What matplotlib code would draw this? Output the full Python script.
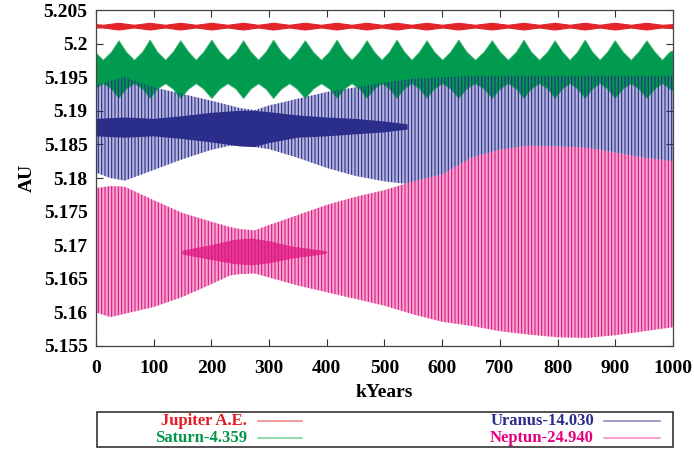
import matplotlib
matplotlib.use("Agg")
import matplotlib.pyplot as plt
from matplotlib.lines import Line2D
from matplotlib.patches import Rectangle

# -----------------------------
# DATA
# -----------------------------
# Jupiter: envelope at troughs and peaks of the ~54 kyr beat
beat_kyr = [0, 12, 39, 66, 93, 120, 146, 173, 200, 228, 255, 281, 307, 335, 362, 390,
            417, 443, 469, 495, 521, 547, 573, 600, 628, 657, 686, 714, 741, 768, 795,
            821, 847, 873, 899, 927, 954, 981, 1000]

jupiter_hi = [5.2029, 5.2028, 5.2031, 5.2028, 5.2031, 5.2028, 5.2031, 5.2028, 5.2031,
              5.2028, 5.2031, 5.2028, 5.2031, 5.2028, 5.2031, 5.2028, 5.2031, 5.2028,
              5.2031, 5.2028, 5.2031, 5.2028, 5.2031, 5.2028, 5.2031, 5.2028, 5.2031,
              5.2028, 5.2031, 5.2028, 5.2031, 5.2028, 5.2031, 5.2028, 5.2031, 5.2028,
              5.2031, 5.2028, 5.2029]
jupiter_lo = [5.2024, 5.2024, 5.2021, 5.2024, 5.2021, 5.2024, 5.2021, 5.2024, 5.2021,
              5.2024, 5.2021, 5.2024, 5.2021, 5.2024, 5.2021, 5.2024, 5.2021, 5.2024,
              5.2021, 5.2024, 5.2021, 5.2024, 5.2021, 5.2024, 5.2021, 5.2024, 5.2021,
              5.2024, 5.2021, 5.2024, 5.2021, 5.2024, 5.2021, 5.2024, 5.2021, 5.2024,
              5.2021, 5.2024, 5.2023]

# Saturn: same beat, with the half-way points (rounded troughs, pointed peaks)
saturn_kyr = [0, 12,
              26, 39, 52, 66,
              80, 93, 106, 120,
              133, 146, 160, 173,
              186, 200, 214, 228,
              242, 255, 268, 281,
              294, 307, 321, 335,
              348, 362, 376, 390,
              404, 417, 430, 443,
              456, 469, 482, 495,
              508, 521, 534, 547,
              560, 573, 586, 600,
              614, 628, 642, 657,
              672, 686, 700, 714,
              728, 741, 754, 768,
              782, 795, 808, 821,
              834, 847, 860, 873,
              886, 899, 913, 927,
              940, 954, 968, 981,
              994, 1000]
saturn_hi = [5.1986, 5.1976,
             5.1988, 5.2005, 5.1988, 5.1976,
             5.1988, 5.2006, 5.1988, 5.1976,
             5.1988, 5.2005, 5.1988, 5.1976,
             5.1988, 5.2006, 5.1988, 5.1976,
             5.1988, 5.2005, 5.1988, 5.1976,
             5.1988, 5.2006, 5.1988, 5.1976,
             5.1988, 5.2005, 5.1988, 5.1976,
             5.1988, 5.2006, 5.1988, 5.1976,
             5.1988, 5.2005, 5.1988, 5.1976,
             5.1988, 5.2006, 5.1988, 5.1976,
             5.1988, 5.2005, 5.1988, 5.1976,
             5.1988, 5.2006, 5.1988, 5.1976,
             5.1988, 5.2005, 5.1988, 5.1976,
             5.1988, 5.2006, 5.1988, 5.1976,
             5.1988, 5.2005, 5.1988, 5.1976,
             5.1988, 5.2006, 5.1988, 5.1976,
             5.1988, 5.2005, 5.1988, 5.1976,
             5.1988, 5.2005, 5.1988, 5.1976,
             5.1988, 5.1990]
saturn_lo = [5.1934, 5.1941,
             5.1933, 5.1919, 5.1933, 5.1941,
             5.1933, 5.1919, 5.1933, 5.1941,
             5.1933, 5.1919, 5.1933, 5.1941,
             5.1933, 5.1919, 5.1933, 5.1941,
             5.1933, 5.1919, 5.1933, 5.1941,
             5.1933, 5.1919, 5.1933, 5.1941,
             5.1933, 5.1919, 5.1933, 5.1941,
             5.1933, 5.1919, 5.1933, 5.1941,
             5.1933, 5.1919, 5.1933, 5.1941,
             5.1933, 5.1919, 5.1933, 5.1941,
             5.1933, 5.1919, 5.1933, 5.1941,
             5.1933, 5.1919, 5.1933, 5.1941,
             5.1933, 5.1919, 5.1933, 5.1941,
             5.1933, 5.1919, 5.1933, 5.1941,
             5.1933, 5.1919, 5.1933, 5.1941,
             5.1933, 5.1919, 5.1933, 5.1941,
             5.1933, 5.1919, 5.1933, 5.1941,
             5.1933, 5.1919, 5.1933, 5.1941,
             5.1933, 5.1930]

# Uranus / Neptune: slow envelope
env_kyr = [0, 25, 50, 100, 150, 200, 232, 250, 275, 300, 350, 400, 450, 500, 550,
           600, 650, 700, 750, 800, 850, 900, 950, 1000]

uranus_hi = [5.1938, 5.1945, 5.1950, 5.1935, 5.1925, 5.1915, 5.1908, 5.1904, 5.1901,
             5.1908, 5.1918, 5.1928, 5.1935, 5.1942, 5.1948, 5.1950, 5.1952, 5.1952,
             5.1952, 5.1952, 5.1952, 5.1952, 5.1952, 5.1952]
uranus_lo = [5.1808, 5.1800, 5.1796, 5.1812, 5.1828, 5.1842, 5.1848, 5.1848, 5.1846,
             5.1843, 5.1830, 5.1815, 5.1803, 5.1795, 5.1790, 5.1787, 5.1785, 5.1785,
             5.1785, 5.1785, 5.1785, 5.1785, 5.1785, 5.1785]

uranus_core_kyr = [0, 50, 100, 150, 200, 250, 275, 300, 350, 400, 450, 500, 540]
uranus_core_hi = [5.1888, 5.1890, 5.1888, 5.1892, 5.1897, 5.1900, 5.1900, 5.1898,
                  5.1893, 5.1890, 5.1888, 5.1884, 5.1880]
uranus_core_lo = [5.1862, 5.1860, 5.1862, 5.1858, 5.1853, 5.1847, 5.1846, 5.1852,
                  5.1860, 5.1862, 5.1865, 5.1868, 5.1872]

neptune_hi = [5.1785, 5.1788, 5.1787, 5.1767, 5.1748, 5.1735, 5.1727, 5.1724, 5.1722,
              5.1730, 5.1745, 5.1760, 5.1772, 5.1782, 5.1795, 5.1805, 5.1830, 5.1842,
              5.1848, 5.1847, 5.1845, 5.1838, 5.1830, 5.1825]
neptune_lo = [5.1600, 5.1593, 5.1598, 5.1608, 5.1623, 5.1642, 5.1655, 5.1657, 5.1658,
              5.1652, 5.1640, 5.1630, 5.1620, 5.1610, 5.1597, 5.1586, 5.1580, 5.1572,
              5.1567, 5.1563, 5.1562, 5.1566, 5.1572, 5.1578]

neptune_core_kyr = [150, 200, 240, 270, 300, 340, 400]
neptune_core_hi = [5.1692, 5.1700, 5.1708, 5.1710, 5.1706, 5.1698, 5.1691]
neptune_core_lo = [5.1686, 5.1678, 5.1672, 5.1670, 5.1673, 5.1680, 5.1687]

labels = ["Jupiter A.E.", "Saturn-4.359", "Uranus-14.030", "Neptun-24.940"]

# -----------------------------
# COLOURS
# -----------------------------
jup_red = "#e3242b"
sat_green = "#009b4e"
ura_dark = "#2b2d8a"
ura_light = "#b6b6dc"
nep_dark = "#e0147f"
nep_light = "#f3a9d1"

text_colors = ["#e31b23", "#00964a", "#2b2d8a", "#e6007e"]
legend_line_colors = ["#f08a8e", "#7fd0a6", "#8c8cc4", "#f490c8"]

plt.rcParams["font.family"] = ["Liberation Serif", "DejaVu Serif"]
plt.rcParams["font.weight"] = "bold"
plt.rcParams["hatch.linewidth"] = 0.8

fig = plt.figure(figsize=(6.94, 4.57), dpi=100)
ax = fig.add_axes([0.1383, 0.2429, 0.8314, 0.7352])

# Uranus light band (under Saturn)
ax.fill_between(env_kyr, uranus_lo, uranus_hi, facecolor=ura_light, edgecolor="none",
                linewidth=0, zorder=1)

# Saturn
ax.fill_between(saturn_kyr, saturn_lo, saturn_hi, facecolor=sat_green, edgecolor="#3fb274",
                linewidth=0.6, zorder=2)

# Uranus dark oscillation lines + core
ax.fill_between(env_kyr, uranus_lo, uranus_hi, facecolor="none", edgecolor=ura_dark,
                hatch="|||||", linewidth=0, zorder=3)
ax.fill_between(uranus_core_kyr, uranus_core_lo, uranus_core_hi, facecolor=ura_dark,
                edgecolor="none", linewidth=0, zorder=3)

# Jupiter
ax.fill_between(beat_kyr, jupiter_lo, jupiter_hi, facecolor=jup_red, edgecolor=jup_red,
                linewidth=0.8, zorder=4)

# Neptune
ax.fill_between(env_kyr, neptune_lo, neptune_hi, facecolor=nep_light, edgecolor="none",
                linewidth=0, zorder=5)
ax.fill_between(env_kyr, neptune_lo, neptune_hi, facecolor="none", edgecolor=nep_dark,
                hatch="|||||", linewidth=0, zorder=6)
ax.fill_between(neptune_core_kyr, neptune_core_lo, neptune_core_hi, facecolor=nep_dark,
                edgecolor="none", linewidth=0, alpha=0.75, zorder=6)

# -----------------------------
# AXES
# -----------------------------
ax.set_xlim(0, 1000)
ax.set_ylim(5.155, 5.205)
ax.set_xticks(range(0, 1001, 100))
ax.set_yticks([5.155, 5.16, 5.165, 5.17, 5.175, 5.18, 5.185, 5.19, 5.195, 5.2, 5.205])
ax.set_yticklabels(["5.155", "5.16", "5.165", "5.17", "5.175", "5.18", "5.185",
                    "5.19", "5.195", "5.2", "5.205"])
ax.tick_params(direction="in", length=5, width=0.8, top=True, right=True,
               labelsize=14, pad=6, color="#333333")
ax.tick_params(axis="x", pad=10)
for s in ax.spines.values():
    s.set_color("#444444")
    s.set_linewidth(0.9)
    s.set_zorder(10)
ax.set_xlabel("kYears", fontsize=14, fontweight="bold", labelpad=5)
ax.set_ylabel("AU", fontsize=14, fontweight="bold", labelpad=6)

# -----------------------------
# LEGEND (box below the plot)
# -----------------------------
fig.patches.append(Rectangle((97 / 694, 1 - 447 / 457), 576 / 694, 35 / 457,
                             transform=fig.transFigure, facecolor="white",
                             edgecolor="#333333", linewidth=1.2))
rows = [1 - 421 / 457, 1 - 438 / 457]
text_right = [247 / 694, 594 / 694]
line_x = [(258 / 694, 302 / 694), (604 / 694, 660 / 694)]
for i, lab in enumerate(labels):
    col = i // 2
    row = i % 2
    fig.text(text_right[col], rows[row], lab, ha="right", va="center",
             fontsize=12, fontweight="bold", color=text_colors[i])
    fig.lines.append(Line2D(line_x[col], [rows[row], rows[row]], transform=fig.transFigure,
                            color=legend_line_colors[i], linewidth=1.2))

plt.savefig("out.png", dpi=100)
plt.close()
